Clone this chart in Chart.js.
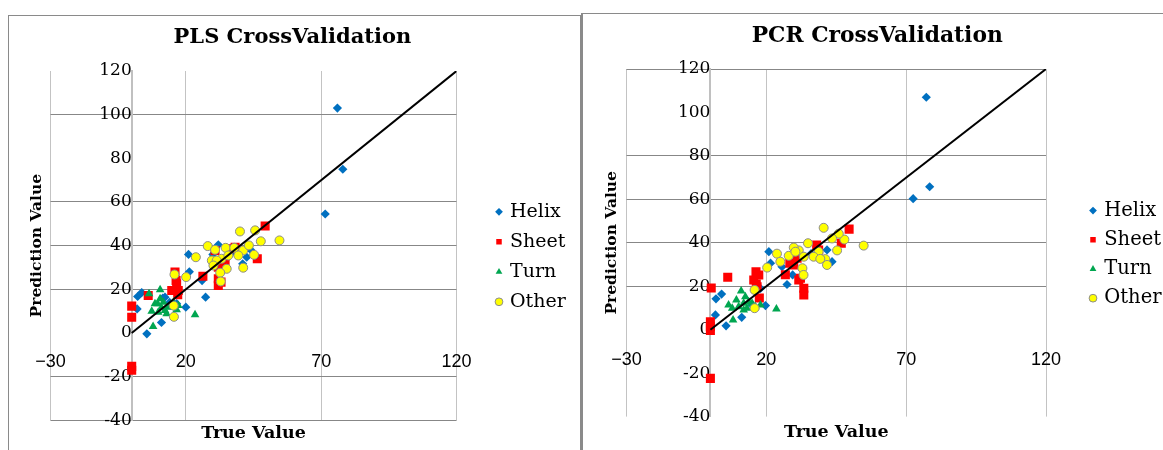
<!DOCTYPE html>
<html>
<head>
<meta charset="utf-8">
<title>CrossValidation</title>
<script src="https://cdn.jsdelivr.net/npm/chart.js@4.4.1/dist/chart.umd.min.js"></script>
<style>
  html, body { margin: 0; padding: 0; background: #fff; }
  body { width: 1163px; height: 450px; overflow: hidden; position: relative; }
  .box { position: absolute; background: #fff; border: 0 solid #8a8a8a; }
  #boxPls { left: 8px; top: 15px; border-width: 1px; }
  #boxPcr { left: 581px; top: 13px; border-left-width: 2px; border-top-width: 1px; }
  canvas { display: block; }
</style>
</head>
<body>
<div class="box" id="boxPls"><canvas id="pls" width="571" height="434"></canvas></div>
<div class="box" id="boxPcr"><canvas id="pcr" width="592" height="436"></canvas></div>
<script>
const xTicks = [-30, 20, 70, 120];
const yTicks = [-40, -20, 0, 20, 40, 60, 80, 100, 120];
const seriesNames = ['Helix', 'Sheet', 'Turn', 'Other'];
const idealLine = [[0, 0], [120, 120]];

// PLS cross validation: [true, predicted]
const helixPls = [[76, 103], [78, 75], [71.5, 54.5], [21, 36], [21.3, 28], [26, 24], [27.3, 16.4],
  [20, 11.8], [16.6, 13.4], [11, 4.8], [5.6, -0.4], [2, 11], [2.2, 16.7], [3.7, 18.5], [12.3, 16.4],
  [11.5, 16], [32, 40.4], [41, 31.7], [42.5, 34.7], [44, 38], [35, 34], [30, 36], [38, 37], [14, 14]];
const sheetPls = [[0, 12.3], [0, 7.2], [0, -15.3], [0, -17.1], [6.1, 17.2], [16, 27.9], [16.6, 22.5],
  [17.2, 19.5], [14.8, 19.5], [16.4, 24], [17, 17.5], [26.3, 26], [32, 24.8], [32, 21.8], [33, 23.3],
  [38.2, 39.3], [49.3, 49], [46.4, 34], [30.8, 37.8], [34.5, 31.7], [32, 30.1], [36.9, 38.6]];
const turnPls = [[6.4, 18], [10.5, 19.8], [10.5, 15.7], [9.6, 13.4], [7.4, 10], [12.3, 10.3], [14.1, 11.8],
  [16.6, 10.6], [23.4, 8.3], [7.9, 3], [9.8, 9.5], [11.7, 14.1], [15.4, 14.1], [17.2, 12.6], [12.9, 8.8],
  [8.6, 13.4], [13.5, 12], [11, 11.5]];
const otherPls = [[40, 46.5], [45.6, 47], [47.7, 42], [54.6, 42.4], [28.1, 39.8], [30.8, 38.1], [34.7, 39],
  [37.9, 39], [41.2, 37.8], [43.3, 40.1], [23.7, 34.7], [29.6, 33.2], [33.2, 34], [35.7, 35.5], [39.4, 35.5],
  [45.2, 35.8], [41.2, 29.9], [35.1, 29.4], [32.7, 27.6], [32.9, 23.6], [20.1, 25.6], [15.8, 26.8],
  [31.4, 33.2], [30.2, 30.9], [15.6, 7.4], [15.5, 12.5]];

// PCR cross validation: [true, predicted]
const helixPcr = [[77.2, 107], [72.5, 60.3], [78.4, 65.8], [1.8, 6.8], [2, 14.2], [4, 16.4], [5.6, 1.8],
  [11.2, 5.7], [19.7, 11.1], [20.9, 35.9], [21.5, 30.6], [25.6, 29], [27.4, 20.8], [29.4, 25.2], [41.7, 36.7],
  [43.5, 31.3], [14.9, 11.4], [17.9, 19], [36, 35], [31, 33]];
const sheetPcr = [[0.3, 19.2], [0, 3.7], [0, -0.4], [0, 1.5], [0, -22.4], [6.2, 24.1], [16.3, 26.7],
  [17.3, 25.2], [15.5, 22.9], [16.4, 21], [16.7, 19.8], [17.5, 14.6], [26.8, 25.3], [31.6, 22.9], [32.2, 23.7],
  [33.4, 19.1], [33.4, 16], [28.4, 30.6], [29.8, 29.8], [31, 32.9], [38, 39], [38.7, 36.7], [49.6, 46.3],
  [46.8, 39.8]];
const turnPcr = [[11, 17.8], [6.5, 11.4], [8.1, 4.5], [11.9, 12.2], [23.6, 9.5], [9.3, 13.7], [13.1, 9.9],
  [17.9, 11.4], [7.8, 9.9], [10.1, 10.6], [14.9, 12.2], [12.5, 15.2], [16.1, 10.6], [13.7, 12.9], [11.9, 9.1]];
const otherPcr = [[15.8, 18.3], [15.8, 9.9], [20.3, 28.6], [23.8, 35], [28, 34], [31.6, 36.5], [29.8, 37.8],
  [34.9, 39.8], [32.9, 28.3], [33.3, 25.2], [38.7, 35.9], [41.1, 32.5], [41.7, 29.8], [40.5, 46.9], [45.3, 36.5],
  [47.9, 41.5], [45.9, 44.2], [54.8, 38.7], [33.4, 33.6], [36.9, 33.6], [39.3, 32.6], [43.5, 42], [25, 31.3],
  [30.4, 35.9]];

Chart.defaults.color = '#000';
Chart.defaults.font.family = '"DejaVu Serif", serif';

const markers = [
  {pointStyle: 'rectRot', radius: 4.6, fill: '#0070c0', line: '#0070c0', width: 0},
  {pointStyle: 'rect', radius: 6.4, fill: '#ff0000', line: '#ff0000', width: 0},
  {pointStyle: 'triangle', radius: 5, fill: '#00a650', line: '#00a650', width: 0},
  {pointStyle: 'circle', radius: 4.5, fill: '#ffff00', line: '#8c8c8c', width: 1}
];

const toPoints = (pairs) => pairs.map(([x, y]) => ({x, y}));

function crossChart(id, title, series, g) {
  const canvas = document.getElementById(id);
  const ctx = canvas.getContext('2d');
  ctx.font = g.legendFont + 'px "DejaVu Serif"';
  const textW = Math.max(...seriesNames.map(n => ctx.measureText(n).width));
  const legendW = g.legendPad + 3 + g.legendFont / 2 + textW + 10;
  const padRight = canvas.width - g.right - g.gap - legendW;
  const titleTop = g.titleY - 0.6 * g.titleFont;

  const datasets = series.map((pts, i) => ({
    label: seriesNames[i],
    data: toPoints(pts),
    pointStyle: markers[i].pointStyle,
    pointRadius: markers[i].radius,
    backgroundColor: markers[i].fill,
    borderColor: markers[i].line,
    borderWidth: markers[i].width,
    order: 4 - i
  }));
  datasets.push({
    type: 'line',
    label: 'y = x',
    data: toPoints(idealLine),
    borderColor: '#000',
    borderWidth: 2,
    pointRadius: 0,
    showLine: true,
    order: 0
  });

  const dummy = {
    display: true,
    ticks: {display: false},
    grid: {display: false, drawTicks: false},
    border: {display: false}
  };

  return new Chart(canvas, {
    type: 'scatter',
    data: {datasets},
    options: {
      responsive: false,
      animation: false,
      events: [],
      layout: {padding: {left: 0, top: 0, bottom: 0, right: padRight}},
      scales: {
        x: {
          type: 'linear',
          position: {y: 0},
          min: xTicks[0],
          max: xTicks[xTicks.length - 1],
          afterBuildTicks: (s) => { s.ticks = xTicks.map(v => ({value: v})); },
          grid: {color: '#c3c3c3', drawTicks: false},
          border: {display: false},
          ticks: {
            padding: g.xTickPad,
            font: {family: '"Liberation Sans", sans-serif', size: 18},
            callback: (v) => String(v).replace('-', '\u2212')
          }
        },
        y: {
          type: 'linear',
          position: {x: 0},
          min: yTicks[0],
          max: yTicks[yTicks.length - 1],
          afterBuildTicks: (s) => { s.ticks = yTicks.map(v => ({value: v})); },
          grid: {
            drawTicks: false,
            color: (c) => g.hideGrid.includes(c.tick && c.tick.value) ? 'rgba(0,0,0,0)' : '#878787'
          },
          border: {display: true, color: '#c0c0c0', width: 2},
          ticks: {
            padding: g.yTickPad,
            font: {size: 17},
            callback: (v) => String(v)
          }
        },
        xTitle: Object.assign({}, dummy, {
          type: 'linear', axis: 'x', position: 'bottom', min: 0, max: 1,
          title: {display: true, text: 'True Value', font: {size: 17.5, weight: 'bold'},
            padding: {top: 0, bottom: g.xTitlePadBottom}},
          afterFit: (s) => { s.height = canvas.height - g.bottom; }
        }),
        yTitle: Object.assign({}, dummy, {
          type: 'linear', axis: 'y', position: 'left', min: 0, max: 1,
          title: {display: true, text: 'Prediction Value', font: {size: 15.5, weight: 'bold'},
            padding: {top: g.yTitleX - 9.3, bottom: 0}},
          afterFit: (s) => { s.width = g.left; }
        }),
        legendGap: Object.assign({}, dummy, {
          type: 'linear', axis: 'y', position: 'right', min: 0, max: 1,
          afterFit: (s) => { s.width = g.gap; }
        })
      },
      plugins: {
        title: {
          display: true,
          text: title,
          font: {size: g.titleFont, weight: 'bold'},
          padding: {top: titleTop, bottom: g.top - 1.2 * g.titleFont - titleTop}
        },
        legend: {
          position: 'right',
          fullSize: false,
          maxWidth: 300,
          title: {display: true, text: '', font: {size: 10}, padding: {top: g.legendTop - 12, bottom: 0}},
          labels: {
            usePointStyle: true,
            boxWidth: 3,
            boxHeight: 5.5,
            padding: g.legendPad,
            font: {size: g.legendFont},
            filter: (item) => item.datasetIndex < 4,
            sort: (a, b) => a.datasetIndex - b.datasetIndex
          }
        },
        tooltip: {enabled: false}
      }
    }
  });
}

crossChart('pls', 'PLS CrossValidation', [helixPls, sheetPls, turnPls, otherPls], {
  left: 41.5, right: 447.5, top: 55, bottom: 404.3,
  titleY: 22, titleFont: 21, yTitleX: 27.7, xTitlePadBottom: 6.4,
  gap: 30, legendPad: 11, legendFont: 19, legendTop: 22.3,
  xTickPad: 18.4, yTickPad: 19,
  hideGrid: [120, 80, 0]
});

crossChart('pcr', 'PCR CrossValidation', [helixPcr, sheetPcr, turnPcr, otherPcr], {
  left: 43.5, right: 463, top: 55, bottom: 402.6,
  titleY: 22, titleFont: 21.8, yTitleX: 29, xTitlePadBottom: 7.4,
  gap: 35.8, legendPad: 9.7, legendFont: 19.5, legendTop: 23.2,
  xTickPad: 19.5, yTickPad: 20.7,
  hideGrid: [100, 0, -20, -40]
});
</script>
</body>
</html>
